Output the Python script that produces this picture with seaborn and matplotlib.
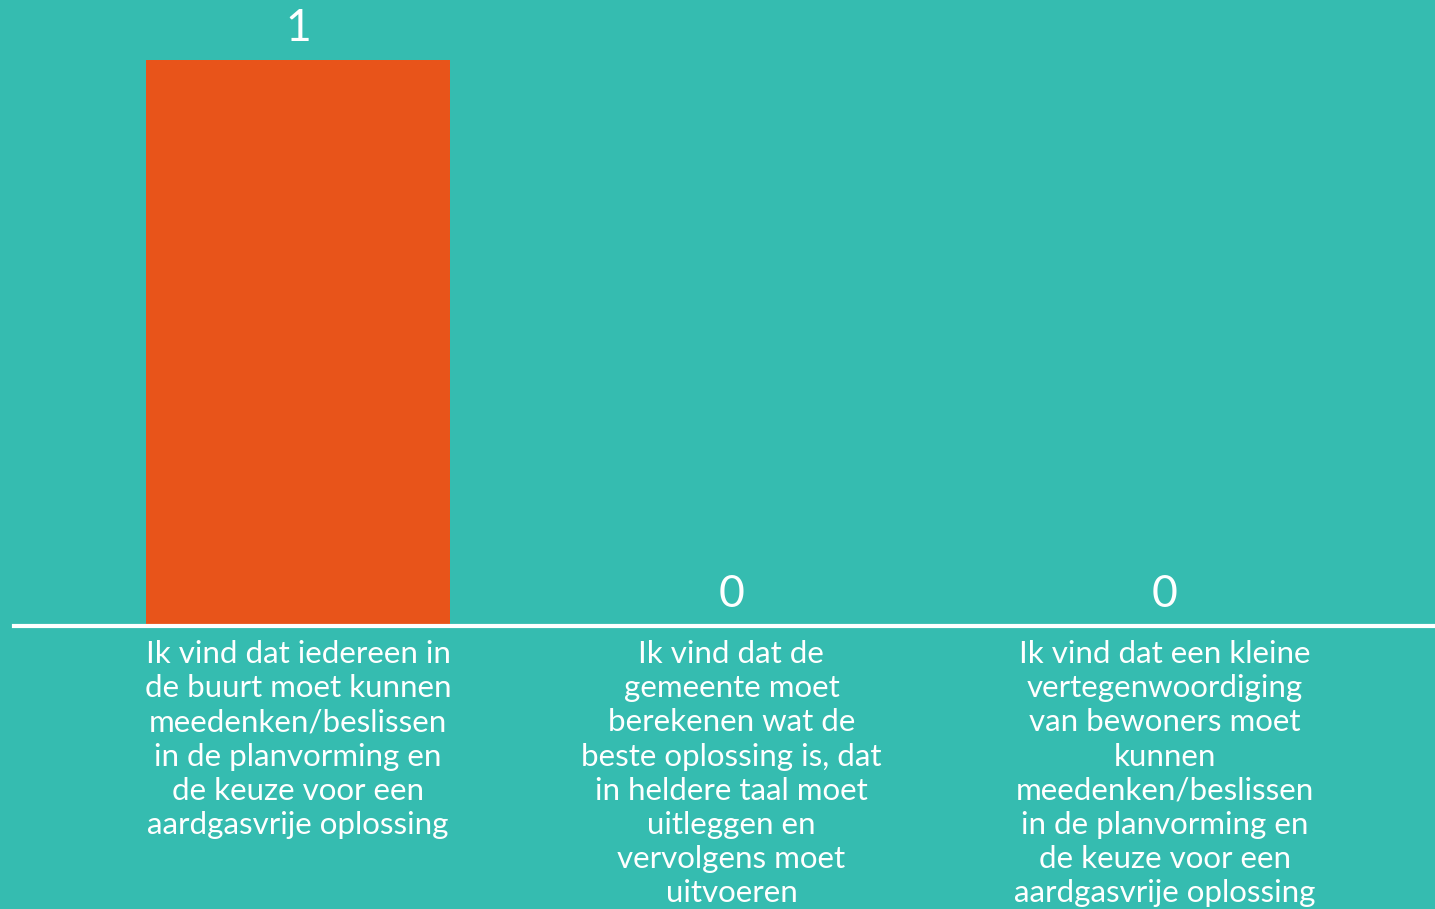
import matplotlib
matplotlib.use("Agg")
import matplotlib.pyplot as plt
import seaborn as sns
import pandas as pd

# data
antwoorden = [
    "Ik vind dat iedereen in\nde buurt moet kunnen\nmeedenken/beslissen\nin de planvorming en\nde keuze voor een\naardgasvrije oplossing",
    "Ik vind dat de\ngemeente moet\nberekenen wat de\nbeste oplossing is, dat\nin heldere taal moet\nuitleggen en\nvervolgens moet\nuitvoeren",
    "Ik vind dat een kleine\nvertegenwoordiging\nvan bewoners moet\nkunnen\nmeedenken/beslissen\nin de planvorming en\nde keuze voor een\naardgasvrije oplossing",
]
stemmen = [1, 0, 0]

achtergrond = '#35BCB0'
oranje = '#E8541A'

df = pd.DataFrame({'antwoord': antwoorden, 'stemmen': stemmen})

sns.set_style("white")
plt.rcParams['font.family'] = ['Lato', 'DejaVu Sans']

fig = plt.figure(figsize=(14.35, 9.09), dpi=100)
fig.patch.set_facecolor(achtergrond)
ax = fig.add_axes([14 / 1435, 1 - 626 / 909, 1421 / 1435, 626 / 909])
ax.set_facecolor(achtergrond)

sns.barplot(data=df, x='antwoord', y='stemmen', color=oranje, width=0.70,
            saturation=1, linewidth=0, ax=ax)

ax.set_xlim(-0.655, 2.623)
ax.set_ylim(0, 1.106)

for c in ax.containers:
    ax.bar_label(c, labels=[str(v) for v in stemmen], padding=8,
                 color='white', fontsize=32)

for s in ['top', 'left', 'right']:
    ax.spines[s].set_visible(False)
ax.spines['bottom'].set_color('white')
ax.spines['bottom'].set_linewidth(3)
ax.set_yticks([])
ax.set_xlabel('')
ax.set_ylabel('')
ax.tick_params(axis='x', length=0, pad=10, colors='white', labelsize=22.5)
for t in ax.get_xticklabels():
    t.set_linespacing(1.27)

fig.savefig('out.png', dpi=100, facecolor=achtergrond)
